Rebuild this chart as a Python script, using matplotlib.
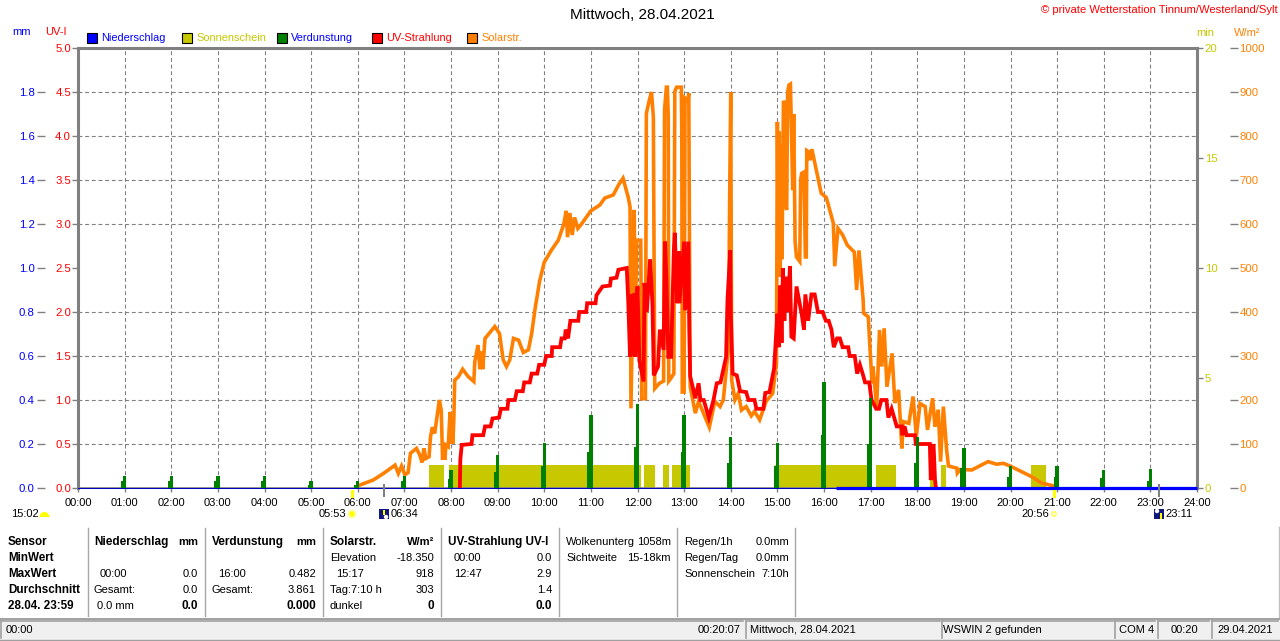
import matplotlib
matplotlib.use("Agg")
import matplotlib.pyplot as plt
from matplotlib.patches import Rectangle, Circle, Wedge
import numpy as np

W, H = 1280, 641
FONT = "Liberation Sans"
plt.rcParams["font.family"] = [FONT, "DejaVu Sans"]

# ---- data: (hour of day, W/m²) ----
solar_morning = [(6.05,7),(6.33,18),(6.55,33),(6.80,52),(6.87,33),(6.94,50),(7.01,30),(7.08,35),(7.13,79),(7.26,90),
 (7.33,75),(7.38,58),(7.42,90),(7.46,67),(7.53,71),(7.56,116),(7.60,138),(7.65,124),(7.69,154),(7.75,200),(7.79,177),
 (7.82,64),(7.84,100),(7.87,64),(7.89,98),(7.94,94),(7.98,173),(8.0,101),(8.02,154),(8.04,101),(8.06,154),(8.08,245),(8.16,253),(8.25,270),(8.37,253),(8.49,242),
 (8.51,287),(8.58,325),(8.62,270),(8.65,310),(8.68,270),(8.73,340),(8.94,367),(9.04,351),(9.12,291),(9.19,276),(9.26,291),(9.34,340),(9.45,336),
 (9.55,308),(9.66,314),(9.73,351),(9.80,405),(9.9,470),(10.0,513),(10.15,540),(10.3,563),(10.42,600),(10.47,630),(10.5,570),(10.55,625),(10.6,575),(10.65,615),(10.72,590),
 (10.8,600),(11.0,630),(11.19,643),(11.3,659),(11.48,666),(11.6,690),(11.69,704),(11.8,661),(11.84,639)]
solar_midday = [(11.86,181),(11.93,632),(11.95,300),(11.98,563),(12.07,563),(12.09,203),(12.17,203),(12.19,851),(12.25,880),(12.3,900),(12.34,844),(12.37,226),(12.47,238),
 (12.56,243),(12.58,860),(12.62,911),(12.64,911),(12.66,844),(12.67,243),(12.72,250),(12.78,260),(12.80,901),(12.84,911),(12.94,911),(12.95,806),(12.96,218),
 (13.0,218),(13.02,886),(13.08,880),(13.1,897),(13.13,230),(13.24,170),(13.31,197),(13.54,138),(13.66,197),(13.77,185),(13.84,200),
 (13.95,318),(13.98,700),(14.0,900),(14.02,245),(14.09,200),(14.16,215),(14.23,177),(14.33,185),(14.44,164),(14.51,174),(14.62,155),
 (14.76,197),(14.9,215),(14.98,283)]
solar_afternoon = [(15.0,832),(15.02,502),(15.04,810),(15.06,480),(15.08,780),(15.1,520),(15.13,880),(15.15,875),(15.16,648),(15.2,632),(15.22,900),(15.25,916),(15.28,918),(15.33,677),(15.35,850),(15.38,560),(15.41,525),
 (15.48,515),(15.5,700),(15.52,715),(15.57,718),(15.6,525),(15.62,525),(15.63,767),(15.66,765),(15.7,745),(15.74,770),(15.8,740),(15.88,700),(15.94,670),(16.05,660),
 (16.2,602),(16.23,504),(16.3,590),(16.4,575),(16.5,552),(16.65,536),(16.7,450),(16.75,540),(16.84,427),(16.85,397),(16.95,389),
 (16.98,329),(17.03,238),(17.05,276),(17.13,185),(17.19,359),(17.24,276),(17.29,363),(17.35,230),(17.46,306),(17.52,193),
 (17.6,223),(17.67,90),(17.7,151),(17.82,147),(17.91,208),(17.98,117),(18.06,192),(18.17,185),(18.22,132),(18.33,204),
 (18.38,139),(18.45,178),(18.5,60),(18.56,185),(18.63,87),(18.67,50),(18.85,45),(18.86,34),(18.92,42),(19.17,41),(19.52,60),
 (19.7,54),(19.85,56),(19.99,50),(20.2,39),(20.45,26),(20.67,11),(20.92,5),(21.0,0)]
solar_t, solar_v = zip(*(solar_morning + solar_midday + solar_afternoon))

# ---- data: (hour of day, UV-I) ----
uv_rise = [(8.19,0),(8.2,.32),(8.23,.49),(8.44,.5),(8.46,.6),(8.69,.6),(8.73,.7),(8.85,.7),(8.89,.79),(9.03,.8),(9.07,.9),
 (9.21,.9),(9.23,1.0),(9.37,1.0),(9.41,1.1),(9.54,1.1),(9.57,1.2),(9.69,1.2),(9.73,1.3),(9.85,1.3),(9.89,1.4),(10.0,1.4),
 (10.04,1.5),(10.16,1.5),(10.17,1.6),(10.34,1.6),(10.37,1.7),(10.44,1.7),(10.46,1.8),(10.51,1.7),(10.56,1.9),(10.73,1.9),
 (10.75,2.0),(10.9,2.0),(10.92,2.1),(11.1,2.1),(11.12,2.19),(11.25,2.29),(11.41,2.3),(11.43,2.38),(11.55,2.39),(11.59,2.48),(11.77,2.5)]
uv_midday = [(11.8,2.14),(11.84,1.49),(11.88,2.2),(11.91,1.5),(11.93,2.21),(11.95,1.49),(11.98,2.1),(12.0,2.29),(12.04,1.45),(12.13,1.21),(12.15,2.33),(12.2,2.0),(12.27,2.6),
 (12.32,2.1),(12.35,1.28),(12.44,1.38),(12.48,1.8),(12.56,1.57),(12.59,2.8),(12.62,2.4),(12.66,1.49),(12.72,1.49),(12.78,2.7),
 (12.8,2.9),(12.85,2.1),(12.89,2.69),(12.9,2.1),(13.0,2.8),(13.02,2.02),(13.09,2.8),(13.11,1.8),(13.13,1.27),(13.24,1.02),
 (13.31,1.19),(13.35,1.0),(13.42,1.0),(13.53,.8),(13.63,1.0),(13.7,1.19),(13.78,1.2),(13.9,1.49),(13.93,2.14),(13.99,2.7),
 (14.0,2.0),(14.04,1.3),(14.13,1.28),(14.2,1.1),(14.33,1.09),(14.38,1.0),(14.51,1.0),(14.55,.9),(14.7,.9),(14.74,1.08),
 (14.83,1.09),(14.93,1.36)]
uv_fall = [(15.0,1.98),(15.03,1.6),(15.06,2.3),(15.09,1.65),(15.12,2.5),(15.15,1.9),(15.18,2.4),(15.22,2.0),(15.27,2.52),(15.3,1.72),(15.35,1.7),(15.41,2.29),(15.52,1.98),(15.57,1.8),(15.6,2.2),
 (15.66,1.9),(15.73,2.2),(15.8,2.2),(15.87,2.0),(15.97,2.0),(16.04,1.9),(16.1,1.9),(16.16,1.8),(16.21,1.6),(16.28,1.7),(16.34,1.7),
 (16.4,1.6),(16.52,1.6),(16.55,1.5),(16.66,1.5),(16.71,1.3),(16.77,1.4),(16.84,1.28),(16.88,1.2),(16.97,1.2),(17.02,1.0),(17.12,.9),
 (17.18,.9),(17.23,1.0),(17.34,1.0),(17.38,.8),(17.45,.9),(17.56,.7),(17.67,.7),(17.68,.6),(17.73,.7),(17.77,.6),(17.95,.6),(17.97,.5),
 (18.27,.5),(18.29,.09),(18.35,.5),(18.38,.1),(18.4,0)]
uv_t, uv_v = zip(*(uv_rise + uv_midday + uv_fall))

evap_hours = list(range(1, 24))
evap_peak = [.055,.055,.055,.055,.03,.03,.055,.08,.15,.206,.333,.38,.33,.23,.206,.482,.41,.232,.18,.10,.10,.08,.085]
evap_base = [.03,.03,.03,.03,.015,.015,.03,.04,.074,.10,.165,.188,.165,.114,.10,.24,.20,.114,.09,.05,.05,.045,.03]

sun_start = [7.53,7.95,12.14,12.54,12.75,13.91,14.95,17.11,18.27,18.51,20.45]
sun_end   = [7.85,12.07,12.37,12.68,13.12,13.98,16.98,17.54,18.36,18.62,20.76]
sun_minutes = 1.05

rain_t = [0, 16.26, 16.26, 24]
rain_v = [0, 0, 0, 0]

hour_labels = [f"{h:02d}:00" for h in range(25)]
uv_ticks = [0,.5,1,1.5,2,2.5,3,3.5,4,4.5,5]
mm_ticks = [0,.2,.4,.6,.8,1.0,1.2,1.4,1.6,1.8]
min_ticks = [0,5,10,15,20]
wm_ticks = list(range(0,1001,100))

legend_names = ["Niederschlag","Sonnenschein","Verdunstung","UV-Strahlung","Solarstr."]

BLUE="#0000ff"; YEL="#c8c800"; GRN="#008000"; RED="#ff0000"; ORG="#ff8000"; GREY="#808080"

fig = plt.figure(figsize=(W/100, H/100), dpi=100, facecolor="white")
X0, X1, Y0, Y1 = 78, 1197, 48, 488
rect = [X0/W, 1-Y1/H, (X1-X0)/W, (Y1-Y0)/H]

ax_min = fig.add_axes(rect)           # sunshine + grid
ax_wm = fig.add_axes(rect, frameon=False)
ax_uv = fig.add_axes(rect, frameon=False)
ax_mm = fig.add_axes(rect, frameon=False)
PT = 0.72
for a in (ax_min, ax_wm, ax_uv, ax_mm):
    a.set_xlim(0, 24)
    a.set_xticks([])
ax_min.set_ylim(0, 20); ax_wm.set_ylim(0, 1000); ax_uv.set_ylim(0, 5); ax_mm.set_ylim(0, 2)

# grid on bottom axes, using the UV/hour divisions
ax_min.set_xticks(range(25))
ax_min.set_xticklabels(hour_labels, fontsize=8, color="black")
ax_min.tick_params(axis="x", length=3, width=1, color=GREY, pad=4.5)
ax_min.set_yticks([t*4 for t in uv_ticks], minor=True)
ax_min.tick_params(axis="y", which="minor", length=0)
ax_min.grid(True, which="minor", axis="y", color=GREY, ls=(0,(3.5,2.5)), lw=.8)
ax_min.grid(True, which="major", axis="x", color=GREY, ls=(0,(3.5,2.5)), lw=.8)
ax_min.set_axisbelow(True)
for s in ax_min.spines.values():
    s.set_color(GREY); s.set_linewidth(2.2)
ax_min.spines["bottom"].set_linewidth(1.2)
ax_min.yaxis.tick_right()
ax_min.set_yticks(min_ticks)
ax_min.set_yticklabels([str(t) for t in min_ticks], fontsize=8.2, color=YEL)
ax_min.tick_params(axis="y", which="major", length=4, width=1, color=GREY, pad=1.5)

ax_min.bar(sun_start, [sun_minutes]*len(sun_start),
           width=np.array(sun_end)-np.array(sun_start), align="edge", color=YEL, lw=0)

# W/m² axis
ax_wm.yaxis.tick_right()
ax_wm.spines["right"].set_visible(True)
ax_wm.spines["right"].set_position(("outward", 37*PT))
ax_wm.spines["right"].set_color(GREY)
ax_wm.spines["right"].set_linewidth(1)
ax_wm.set_yticks(wm_ticks)
ax_wm.set_yticklabels([str(t) for t in wm_ticks], fontsize=8.2, color=ORG)
ax_wm.tick_params(axis="y", direction="inout", length=6, width=1, color=GREY, pad=1)
ax_wm.plot(solar_t, solar_v, color=ORG, lw=3.6*PT, solid_joinstyle="miter")

# UV axis
ax_uv.set_yticks(uv_ticks)
ax_uv.set_yticklabels([f"{t:.1f}" for t in uv_ticks], fontsize=8.2, color=RED)
ax_uv.tick_params(axis="y", length=4, width=1, color=GREY, pad=1)
ax_uv.plot(uv_t, uv_v, color=RED, lw=3.8*PT, solid_joinstyle="miter")

# mm axis with evaporation and rain
ax_mm.spines["left"].set_visible(True)
ax_mm.spines["left"].set_position(("outward", 37*PT))
ax_mm.spines["left"].set_color(GREY)
ax_mm.spines["left"].set_linewidth(1)
ax_mm.set_yticks(mm_ticks)
ax_mm.set_yticklabels([f"{t:.1f}" for t in mm_ticks], fontsize=8.2, color=BLUE)
ax_mm.tick_params(axis="y", direction="inout", length=6, width=1, color=GREY, pad=1.5)
ax_mm.bar(np.array(evap_hours)-.02, evap_base, width=.11, color=GRN, lw=0)
ax_mm.bar(evap_hours, evap_peak, width=.07, color=GRN, lw=0)
ax_mm.plot(rain_t[:2], rain_v[:2], color="#0000c0", lw=1*PT, clip_on=False)
ax_mm.plot(rain_t[2:], rain_v[2:], color=BLUE, lw=3.2*PT, clip_on=False, solid_capstyle="butt")

# ---- pixel overlay ----
ov = fig.add_axes([0,0,1,1], frameon=False, zorder=5)
ov.set_xlim(0, W); ov.set_ylim(H, 0); ov.axis("off")

def T(x, y, s, ha="left", color="black", bold=False, size=8):
    ov.text(x, y, s, ha=ha, va="center", color=color, fontsize=size,
            fontweight="bold" if bold else "normal")

T(642, 15, "Mittwoch, 28.04.2021", ha="center", size=11)
T(1278, 10, "© private Wetterstation Tinnum/Westerland/Sylt", ha="right", color=RED, size=8.1)
T(22, 32, "mm", ha="center", color=BLUE)
T(56, 32, "UV-I", ha="center", color=RED)
T(1205, 33, "min", ha="center", color=YEL)
T(1247, 33, "W/m²", ha="center", color=ORG)

leg_x = [87, 182, 277, 372, 467]
leg_c = [BLUE, YEL, GRN, RED, ORG]
leg_tc = [BLUE, YEL, BLUE, RED, ORG]
for x, c, tc, n in zip(leg_x, leg_c, leg_tc, legend_names):
    ov.add_patch(Rectangle((x, 33), 10, 10, fc=c, ec="black", lw=.8))
    T(x+14, 38, n, color=tc, size=7.9)

# sun / moon marks
for x, c in [(352, "#ffff00"), (1054, "#ffff00")]:
    ov.add_patch(Rectangle((x-1, 490), 2.5, 8, fc=c, lw=0))
for x in [384, 1159]:
    ov.add_patch(Rectangle((x-.7, 484), 1.8, 13, fc=GREY, lw=0))
T(11, 514, "15:02"); T(319, 514, "05:53"); T(391, 514, "06:34")
T(1021, 514, "20:56"); T(1165, 514, "23:11")
ov.add_patch(Wedge((44.5, 517), 5, 180, 360, fc="#ffff00", lw=0))
ov.add_patch(Circle((352, 514), 3.5, fc="#ffff00", ec="#ffffa0", lw=1.2))
ov.add_patch(Circle((1054, 514), 2.2, fc="white", ec="#ffff40", lw=1))
ov.add_patch(Rectangle((379, 509), 10, 10, fc="#101880", lw=0))
ov.add_patch(Circle((386, 517), 2.2, fc="white", lw=0))
ov.add_patch(Rectangle((382.5, 510), 2, 5, fc="#ffff00", lw=0))
ov.add_patch(Rectangle((1154, 509), 10, 10, fc="#101880", lw=0))
ov.add_patch(Circle((1157, 511), 2.2, fc="white", lw=0))
ov.add_patch(Rectangle((1160, 513), 2, 6, fc="#ffff00", lw=0))

# ---- info panel ----
rows = [542, 558, 574, 590, 606]
for x in [88, 205, 323, 441, 559, 677, 795]:
    ov.plot([x, x], [528, 616], color="#a8a8a8", lw=1)
ov.plot([1279, 1279], [527, 618], color="#c0c0c0", lw=1)

for r, s in zip(rows, ["Sensor","MinWert","MaxWert","Durchschnitt","28.04. 23:59"]):
    T(8, r, s, bold=True, size=8.4)

T(94, rows[0], "Niederschlag", bold=True, size=8.5); T(198, rows[0], "mm", "right", bold=True)
T(100, rows[2], "00:00"); T(198, rows[2], "0.0", "right")
T(94, rows[3], "Gesamt:"); T(198, rows[3], "0.0", "right")
T(97, rows[4], "0.0 mm"); T(198, rows[4], "0.0", "right", bold=True, size=8.5)

T(212, rows[0], "Verdunstung", bold=True, size=8.5); T(316, rows[0], "mm", "right", bold=True)
T(218, rows[2], "16:00"); T(316, rows[2], "0.482", "right")
T(212, rows[3], "Gesamt:"); T(316, rows[3], "3.861", "right")
T(316, rows[4], "0.000", "right", bold=True, size=8.5)

T(330, rows[0], "Solarstr.", bold=True, size=8.5); T(434, rows[0], "W/m²", "right", bold=True)
T(330, rows[1], "Elevation"); T(434, rows[1], "-18.350", "right")
T(336, rows[2], "15:17"); T(434, rows[2], "918", "right")
T(330, rows[3], "Tag:7:10 h"); T(434, rows[3], "303", "right")
T(330, rows[4], "dunkel"); T(434, rows[4], "0", "right", bold=True, size=8.5)

T(448, rows[0], "UV-Strahlung UV-I", bold=True, size=8.4)
T(454, rows[1], "00:00"); T(552, rows[1], "0.0", "right")
T(454, rows[2], "12:47"); T(552, rows[2], "2.9", "right")
T(552, rows[3], "1.4", "right")
T(552, rows[4], "0.0", "right", bold=True, size=8.5)

T(566, rows[0], "Wolkenunterg"); T(671, rows[0], "1058m", "right")
T(566, rows[1], "Sichtweite"); T(671, rows[1], "15-18km", "right")

T(684, rows[0], "Regen/1h"); T(789, rows[0], "0.0mm", "right")
T(684, rows[1], "Regen/Tag"); T(789, rows[1], "0.0mm", "right")
T(684, rows[2], "Sonnenschein"); T(789, rows[2], "7:10h", "right")

# ---- status bar ----
ov.add_patch(Rectangle((0, 618), W, 23, fc="#f0f0f0", ec="none"))
ov.plot([0, W], [618.5, 618.5], color="#a0a0a0", lw=1.4)
ov.plot([0, W], [640, 640], color="#a0a0a0", lw=1)
for x0, x1 in [(1, 743), (746, 940), (942, 1113), (1115, 1155), (1158, 1209), (1212, 1278)]:
    ov.plot([x0, x1], [621, 621], color="#a0a0a0", lw=1.2)
    ov.plot([x0, x0], [621, 638], color="#a0a0a0", lw=1.2)
T(6, 630, "00:00"); T(741, 630, "00:20:07", "right")
T(750, 630, "Mittwoch, 28.04.2021"); T(943, 630, "WSWIN 2 gefunden")
T(1119, 630, "COM 4"); T(1184, 630, "00:20", "center"); T(1245, 630, "29.04.2021", "center")

fig.savefig("out.png", dpi=100, facecolor="white")
